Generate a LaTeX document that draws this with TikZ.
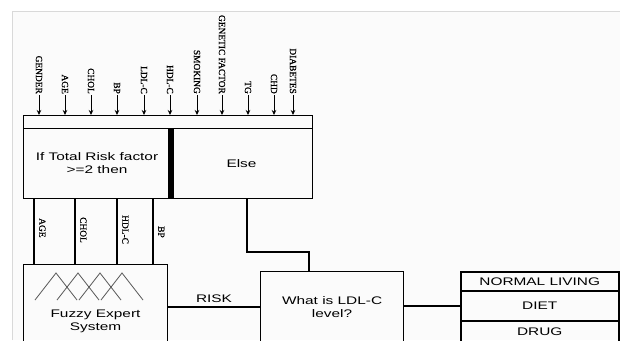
\documentclass[tikz,border=0pt]{standalone}
\usepackage{fontspec}
\setmainfont{Liberation Serif}
\newfontfamily\boxfont[FakeStretch=1.4]{Liberation Sans}
\newfontfamily\labfont[FakeBold=0.8]{Liberation Serif}
\usepackage{tikz}
\usetikzlibrary{arrows.meta,positioning}

\begin{document}
\begin{tikzpicture}[x=1pt,y=-1pt,>={Stealth[length=5pt,width=4.5pt]},
 box/.style={draw,line width=1pt,anchor=north west,inner sep=0pt,align=center,
   font=\boxfont\fontsize{11}{13}\selectfont},
 opt/.style={box,line width=1.5pt,minimum width=158},
 inp/.style={rotate=-90,anchor=east,inner sep=1pt,font=\labfont\fontsize{9.4}{10}\selectfont},
 sub/.style={rotate=-90,anchor=south west,inner sep=1pt,font=\labfont\fontsize{9.4}{10}\selectfont},
 link/.style={line width=2pt},
 memb/.style={black!65,line width=0.8pt}]
\useasboundingbox (0,0) rectangle (620,340);
\clip (0,0) rectangle (620,340);
\fill[gray!3] (12,11) rectangle (620,340);
\draw[gray!30] (12,340) -- (12,11) -- (620,11);
\node[box,minimum width=289,minimum height=13] (bar) at (23,115) {};
\node[box,minimum width=147,minimum height=70] (ifrisk) at (23,128) {If Total Risk factor\\>=2 then};
\node[box,minimum width=142,minimum height=70] (other) at (170,128) {Else};
\draw[line width=5.5pt] ([yshift=-1]ifrisk.north east) -- (ifrisk.south east);
\foreach \x/\t/\n in {39/GENDER/gender,65/AGE/age,91/CHOL/chol,117/BP/bp,144/LDL-C/ldl,
  170/HDL-C/hdl,197/SMOKING/smoke,222/GENETIC FACTOR/genetic,248/TG/tg,274/CHD/chd,293/DIABETES/diab}
{
 \node[inp] (\n) at (\x,95) {\t};
 \draw[->,line width=0.8pt] (\n.east) -- (\n.east |- bar.north);
}
\node[box,minimum width=144,minimum height=114] (fuzzy) at (23,264) {Fuzzy Expert\\System};
\foreach \p in {33,55,77,99}
 \draw[memb] ([shift={(\p-21,36)}]fuzzy.north west) -- ++(21,-27) -- ++(21,27);
\foreach \dx/\dy/\t in {11/18/AGE,52/17/CHOL,94/15/HDL-C,130/26/BP}
{
 \draw[link] ([xshift=\dx]ifrisk.south west) -- ([xshift=\dx]fuzzy.north west);
 \node[sub] at ([shift={(\dx+4,\dy)}]ifrisk.south west) {\t};
}
\node[box,line width=1.2pt,minimum width=143,minimum height=70] (ldlq) at (260,271) {What is LDL-C\\level?};
\draw[link] (fuzzy.east |- ldlq.west) -- node[above,font=\boxfont\fontsize{11}{13}\selectfont] {RISK} (ldlq.west);
\draw[link] ([xshift=5]other.south) -- ++(0,53) -| ([xshift=-23.5]ldlq.north);
\node[opt,minimum height=19] (normal) at (460,271) {NORMAL LIVING};
\node[opt,minimum height=30] (diet) at (460,290) {DIET};
\node[opt,minimum height=21] (drug) at (460,320) {DRUG};
\draw[link] (ldlq.east |- diet.west) -- (diet.west);
\end{tikzpicture}
\end{document}
